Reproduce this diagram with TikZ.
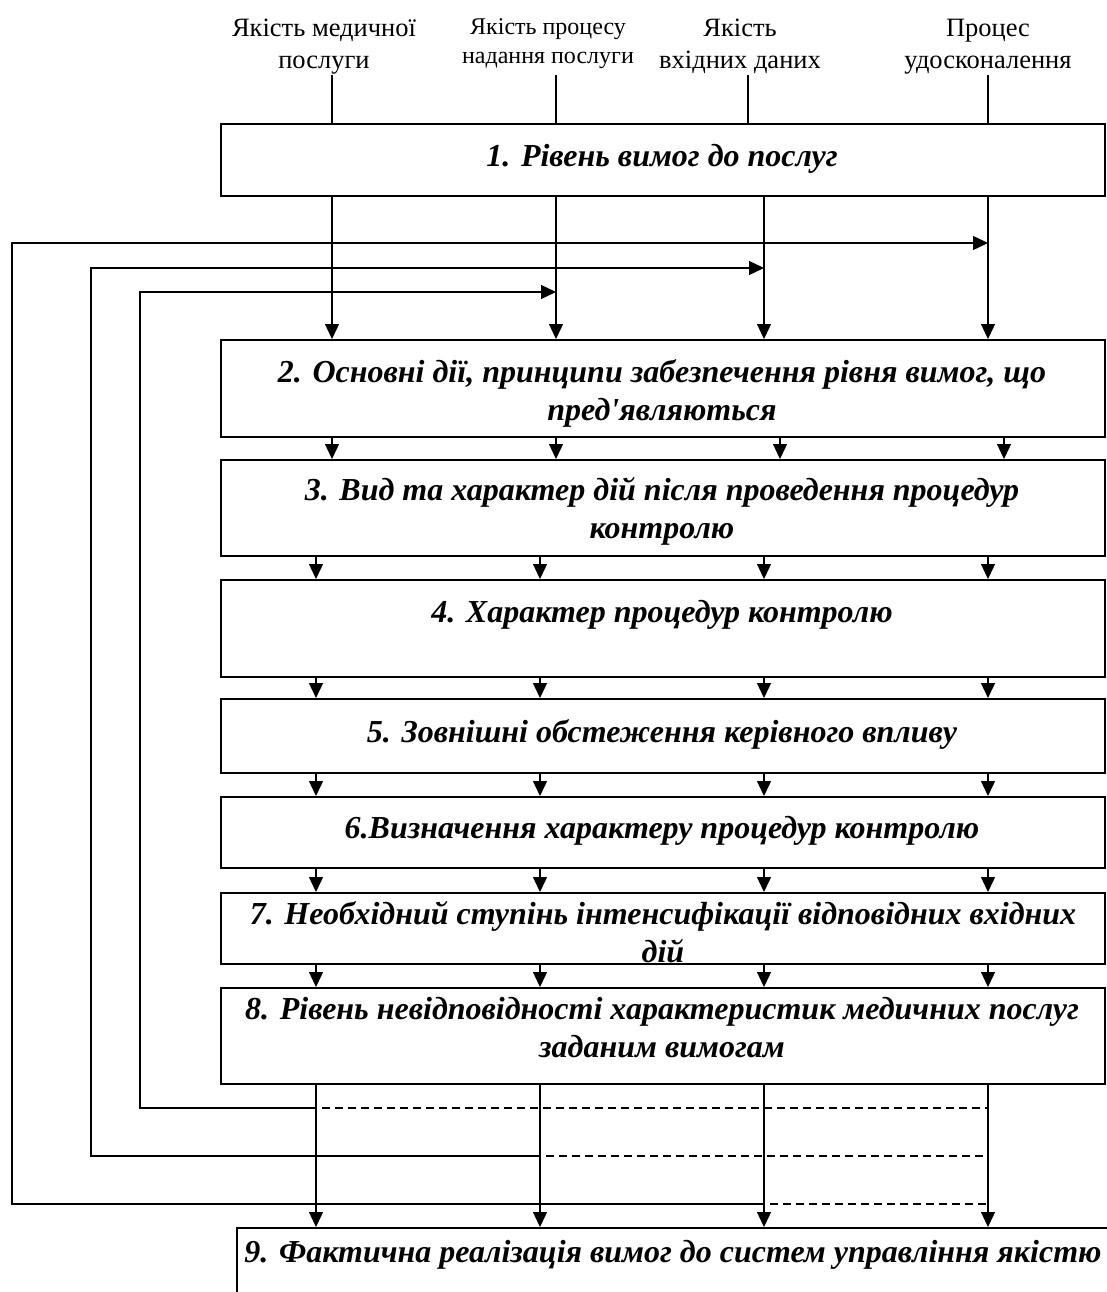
\documentclass[tikz,border=0pt]{standalone}
\usepackage{fontspec}
\setmainfont{Liberation Serif}
\usetikzlibrary{arrows.meta}
\begin{document}
\begin{tikzpicture}[x=1pt,y=-1pt,
  box/.style={draw, line width=1.6pt, minimum width=884pt, inner sep=0pt, anchor=north west},
  boxtext/.style={font=\fontsize{32}{37.5}\selectfont\bfseries\itshape, align=center, inner sep=0pt, anchor=base},
  toplabel/.style={font=\fontsize{26.5}{32}\selectfont, align=center, inner sep=0pt, anchor=base},
  smalllabel/.style={font=\fontsize{24}{29}\selectfont, align=center, inner sep=0pt, anchor=base},
  link/.style={line width=1.3pt},
  flow/.style={line width=1.3pt, -{Triangle[length=15pt,width=14pt]}},
  fbdash/.style={line width=1.8pt, dash pattern=on 8pt off 5pt}]
\useasboundingbox (0,0) rectangle (1107,1292);
\clip (0,0) rectangle (1107,1292);

% column positions
\coordinate (t1) at (332,0); \coordinate (t2) at (556,0);
\coordinate (t3) at (748,0); \coordinate (t4) at (988,0);
\coordinate (u1) at (332,0); \coordinate (u2) at (556,0);
\coordinate (u3) at (764,0); \coordinate (u4) at (988,0);
\coordinate (v1) at (332,0); \coordinate (v2) at (556,0);
\coordinate (v3) at (780,0); \coordinate (v4) at (1004,0);
\coordinate (w1) at (316,0); \coordinate (w2) at (540,0);
\coordinate (w3) at (764,0); \coordinate (w4) at (988,0);

% input labels (anchored at the baseline of their last line)
\node[toplabel] (l1) at (324,69) {Якість медичної\\послуги};
\node[smalllabel] (l2) at (548,64) {Якість процесу\\надання послуги};
\node[toplabel] (l3) at (740,69) {Якість\\вхідних даних};
\node[toplabel] (l4) at (988,69) {Процес\\удосконалення};

% boxes
\node[box, minimum height=72pt] (b1) at (220,123) {};
\node[box, minimum height=97pt] (b2) at (220,339) {};
\node[box, minimum height=96pt] (b3) at (220,459) {};
\node[box, minimum height=97pt] (b4) at (220,579) {};
\node[box, minimum height=74pt] (b5) at (220,698) {};
\node[box, minimum height=71pt] (b6) at (220,796) {};
\node[box, minimum height=71pt] (b7) at (220,892) {};
\node[box, minimum height=96pt] (b8) at (220,987) {};
\node[box, minimum height=90pt, minimum width=900pt] (b9) at (236,1227) {};

% box texts (anchored at the baseline of their last line)
\node[boxtext] (x1) at (662,167) {1. Рівень вимог до послуг};
\node[boxtext] (x2) at (662,420) {2. Основні дії, принципи забезпечення рівня вимог, що\\пред\textquotesingle являються};
\node[boxtext] (x3) at (662,538) {3. Вид та характер дій після проведення процедур\\контролю};
\node[boxtext] (x4) at (662,622) {4. Характер процедур контролю};
\node[boxtext] (x5) at (662,742) {5. Зовнішні обстеження керівного впливу};
\node[boxtext] (x6) at (662,838) {6.Визначення характеру процедур контролю};
\node[boxtext] (x7) at (663,962) {7. Необхідний ступінь інтенсифікації відповідних вхідних\\дій};
\node[boxtext] (x8) at (662,1057) {8. Рівень невідповідності характеристик медичних послуг\\заданим вимогам};
\node[boxtext] (x9) at (673,1262) {9. Фактична реалізація вимог до систем управління якістю};

% inputs into box 1
\foreach \c in {t1,t2,t3,t4}
  \draw[link] (\c |- 0,75) -- (\c |- b1.north);
% box 1 to box 2
\foreach \c in {u1,u2,u3,u4}
  \draw[flow] (\c |- b1.south) -- (\c |- b2.north);
% box 2 to box 3
\foreach \c in {v1,v2,v3,v4}
  \draw[flow] (\c |- b2.south) -- (\c |- b3.north);
% the lower chain
\foreach \p/\q in {b3/b4,b4/b5,b5/b6,b6/b7,b7/b8,b8/b9}
  \foreach \c in {w1,w2,w3,w4}
    \draw[flow] (\c |- \p.south) -- (\c |- \q.north);

% feedback loops
\coordinate (f1) at (316,1108); \coordinate (g1) at (140,0); \coordinate (h1) at (556,292);
\coordinate (f2) at (540,1156); \coordinate (g2) at (91,0);  \coordinate (h2) at (764,268);
\coordinate (f3) at (764,1204); \coordinate (g3) at (12,0);  \coordinate (h3) at (988,243);
\foreach \i in {1,2,3}{
  \draw[flow] (f\i) -- (f\i -| g\i) -- (g\i |- h\i) -- (h\i);
  \draw[fbdash] ([xshift=6pt]f\i) -- (f\i -| w4);
}
\end{tikzpicture}
\end{document}
